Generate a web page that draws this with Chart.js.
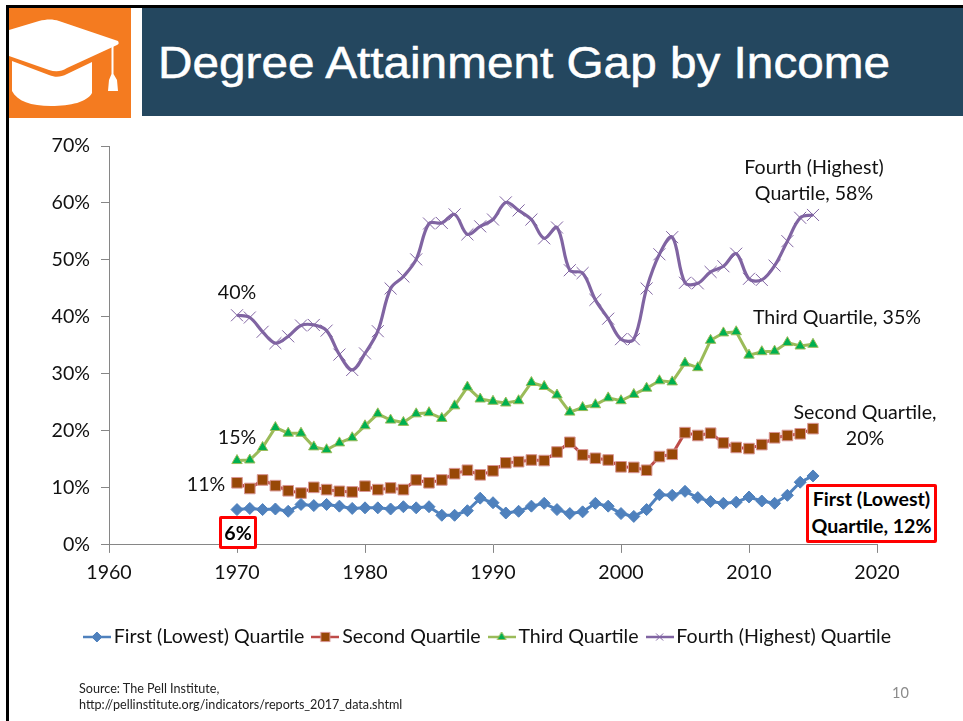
<!DOCTYPE html>
<html><head><meta charset="utf-8">
<script src="https://cdn.jsdelivr.net/npm/chart.js@4"></script>
<style>
html,body{margin:0;padding:0;background:#fff;width:963px;height:721px;overflow:hidden}
#stage{position:relative;width:963px;height:721px;overflow:hidden}
#stage>*{position:absolute}
canvas#c{left:0;top:0}
.t{font-family:Lato,"Open Sans",sans-serif;font-size:19.6px;line-height:25.5px;color:#111;white-space:nowrap;text-align:center}
.b{font-weight:700;border:3.5px solid #f00;background:#fff;box-sizing:border-box;border-radius:2px;line-height:26px;color:#000}
</style></head><body>
<div id="stage">
<canvas id="c" width="963" height="721"></canvas>
<div style="left:6px;top:5px;width:957px;height:3px;background:#000"></div>
<div style="left:6px;top:5px;width:3px;height:716px;background:#000"></div>
<svg style="left:9px;top:8px" width="122" height="110" viewBox="0 0 122 110">
<rect width="122" height="110" fill="#f47b20"/>
<path d="M0 22 L30 13 C38 11 44 11 50 13 L109 33 C110 35 110 36 108 37 L58 60 C52 64 46 64 40 62 L0 48 Z" fill="#fff"/>
<path d="M3 53 L40 67 C47 70 52 69 58 66 L83 54 L83 85 C78 94 62 98 42 98 C22 98 8 93 3 83 Z" fill="#fff"/>
<path d="M102.5 36 L104.5 36 L104.5 66 L108 72 L109 83 L99 83 L100 72 L102.5 66 Z" fill="#fff"/>
</svg>
<div style="left:142px;top:8px;width:821px;height:108px;background:#24475f"></div>
<div id="title" style="left:158px;top:36px;font:400 43.5px/54px 'Liberation Sans',Arial,sans-serif;color:#fff;white-space:nowrap;-webkit-text-stroke:.5px #fff;transform-origin:0 0;transform:scaleX(1.097)">Degree Attainment Gap by Income</div>
<div class="t" style="left:714px;top:154px;width:200px">Fourth (Highest)<br>Quartile, 58%</div>
<div class="t" style="left:737px;top:304px;width:200px">Third Quartile, 35%</div>
<div class="t" style="left:765px;top:399px;width:200px">Second Quartile,<br>20%</div>
<div class="t" style="left:197px;top:279px;width:80px">40%</div>
<div class="t" style="left:197px;top:424px;width:80px">15%</div>
<div class="t" style="left:166px;top:471px;width:80px">11%</div>
<div class="t b" style="left:219px;top:516px;width:38px;height:33px;line-height:27px">6%</div>
<div class="t b" style="left:806px;top:484px;width:131px;height:59px;line-height:26.5px;padding-top:0;"><span style="position:relative;top:-1px">First (Lowest)<br>Quartile, 12%</span></div>
<div style="left:79px;top:681px;font:12.6px/16px Lato,'Open Sans',sans-serif;color:#222;white-space:nowrap">Source: The Pell Institute,<br>http://pellinstitute.org/indicators/reports_2017_data.shtml</div>
<div style="left:892px;top:684px;font:14.5px/18px Lato,'Open Sans',sans-serif;color:#8b8b8b">10</div>
</div>
<script>
const years = [1970,1971,1972,1973,1974,1975,1976,1977,1978,1979,1980,1981,1982,1983,1984,1985,1986,1987,1988,1989,1990,1991,1992,1993,1994,1995,1996,1997,1998,1999,2000,2001,2002,2003,2004,2005,2006,2007,2008,2009,2010,2011,2012,2013,2014,2015];
const first = [6.2,6.4,6.2,6.3,5.9,7.1,6.9,7.1,6.8,6.4,6.5,6.5,6.3,6.7,6.5,6.7,5.2,5.2,6.0,8.2,7.4,5.6,5.9,6.8,7.3,6.2,5.5,5.8,7.3,6.8,5.5,5.0,6.2,8.8,8.7,9.4,8.3,7.6,7.3,7.5,8.4,7.7,7.3,8.7,11.0,12.1];
const second = [10.9,9.9,11.4,10.4,9.5,9.1,10.1,9.7,9.4,9.3,10.3,9.7,10.0,9.7,11.4,10.9,11.4,12.5,13.1,12.3,13.0,14.4,14.6,14.9,14.8,16.3,18.0,15.8,15.2,14.9,13.7,13.6,13.1,15.5,15.9,19.7,19.2,19.6,17.9,17.1,16.9,17.6,18.8,19.2,19.5,20.4];
const third = [14.8,14.9,17.1,20.6,19.6,19.6,17.2,16.7,17.9,18.8,20.9,23.0,21.9,21.5,23.0,23.2,22.2,24.4,27.7,25.6,25.2,24.9,25.3,28.5,27.8,26.3,23.3,24.1,24.6,25.8,25.3,26.4,27.5,28.8,28.6,31.9,31.1,35.9,37.2,37.4,33.3,33.9,34.0,35.5,34.9,35.2];
const fourth = [40.3,39.9,37.4,35.4,36.6,38.5,38.6,37.6,33.4,30.7,33.6,37.5,45.0,47.1,50.1,56.4,56.5,58.0,54.5,55.9,57.1,60.1,58.7,57.1,53.8,55.7,48.2,47.7,43.0,39.7,36.1,36.1,45.0,51.0,54.0,46.0,45.9,47.9,48.9,51.1,46.7,46.5,49.0,53.3,57.4,57.9];
const seriesNames = ["First (Lowest) Quartile","Second Quartile","Third Quartile","Fourth (Highest) Quartile"];
const xTicks = [1960,1970,1980,1990,2000,2010,2020];
const yTicks = [0,10,20,30,40,50,60,70];

const styles = [
 {line:'#4f81bd',fill:'#4f81bd',edge:'#4f81bd',shape:'rectRot',r:6,pw:1,w:3,t:0},
 {line:'#be4b48',fill:'#984807',edge:'#d99694',shape:'rect',r:7.5,pw:1,w:3,t:0},
 {line:'#9bbb59',fill:'#00b050',edge:'#9bbb59',shape:'triangle',r:6,pw:1,w:3,t:0},
 {line:'#8064a2',fill:'#8064a2',edge:'#8064a2',shape:'crossRot',r:8.5,pw:1,w:3.2,t:0.35}
];
const values = [first,second,third,fourth];
const FONT = 'Lato';

function legendSwatch(i){
  const s=styles[i], cv=document.createElement('canvas');
  cv.width=28; cv.height=14;
  const g=cv.getContext('2d');
  g.strokeStyle=s.line; g.lineWidth=2.5;
  g.beginPath(); g.moveTo(0,7); g.lineTo(28,7); g.stroke();
  g.fillStyle=s.fill; g.strokeStyle=s.edge; g.lineWidth=1;
  Chart.helpers.drawPoint(g,{pointStyle:s.shape,radius:s.shape==='rect'?6.5:5,borderWidth:1,rotation:0},14,7);
  return cv;
}

const legendShift = {
  id:'legendShift',
  afterLayout(chart){ chart.legend.left += 52; chart.legend.right += 52; }
};

new Chart(document.getElementById('c'),{
  type:'line',
  plugins:[legendShift],
  data:{datasets:values.map((v,i)=>({
    label:seriesNames[i],
    data:v.map((y,k)=>({x:years[k],y})),
    borderColor:styles[i].line,
    backgroundColor:styles[i].fill,
    borderWidth:styles[i].w,
    tension:styles[i].t,
    pointStyle:styles[i].shape,
    pointRadius:styles[i].r,
    pointBackgroundColor:styles[i].fill,
    pointBorderColor:styles[i].edge,
    pointBorderWidth:styles[i].pw,
    fill:false
  }))},
  options:{
    responsive:false,animation:false,
    layout:{padding:{left:0,right:86,top:146,bottom:64.25}},
    plugins:{
      tooltip:{enabled:false},
      legend:{
        position:'bottom',
        labels:{
          usePointStyle:true,pointStyleWidth:14,
          color:'#111',font:{family:FONT,size:19.6},padding:14,boxHeight:14,
          generateLabels(){
            return seriesNames.map((n,i)=>({text:n,pointStyle:legendSwatch(i),fontColor:'#111',datasetIndex:i,hidden:false,lineWidth:0,strokeStyle:'transparent',fillStyle:'transparent'}));
          }
        }
      }
    },
    scales:{
      x:{type:'linear',min:1960,max:2020,
        afterBuildTicks(a){a.ticks=xTicks.map(v=>({value:v}));},
        afterFit(a){a.height=68.25;},
        grid:{drawOnChartArea:false,color:'#868686',tickLength:8,lineWidth:1},
        border:{color:'#868686',width:1},
        ticks:{color:'#111',font:{family:FONT,size:19.6},padding:8,maxRotation:0,autoSkip:false,callback:v=>String(v)}
      },
      y:{min:0,max:70,
        afterBuildTicks(a){a.ticks=yTicks.map(v=>({value:v}));},
        afterFit(a){a.width=109;},
        grid:{drawOnChartArea:false,color:'#868686',tickLength:8,lineWidth:1},
        border:{color:'#868686',width:1},
        ticks:{color:'#111',font:{family:FONT,size:19.6},padding:11,autoSkip:false,callback:v=>v+'%'}
      }
    }
  }
});
</script>
</body></html>
